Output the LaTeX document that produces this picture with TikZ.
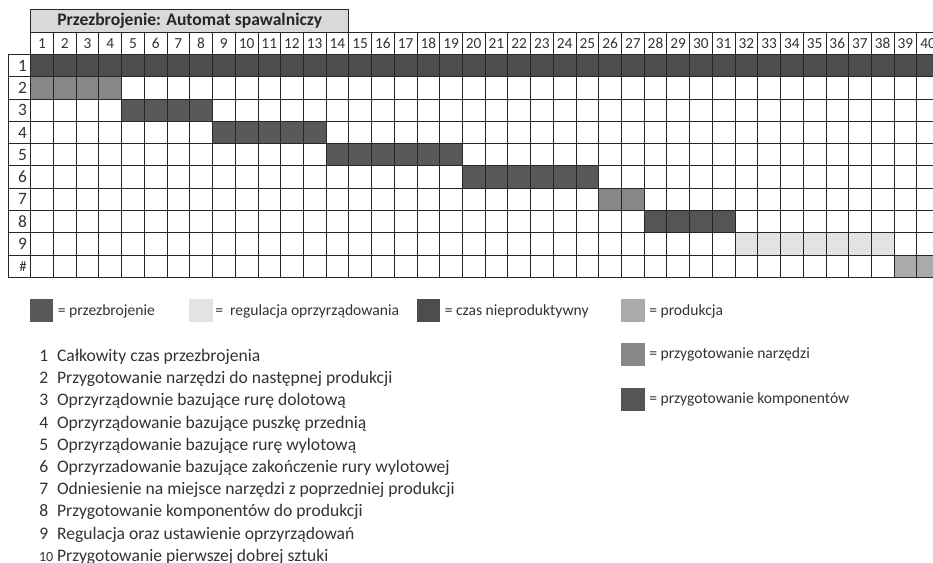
\documentclass[tikz,border=0pt]{standalone}
\usepackage{fontspec}
\setmainfont{Carlito}
\definecolor{cDark}{HTML}{4D4D4D}
\definecolor{cStep}{HTML}{595959}
\definecolor{cTool}{HTML}{888888}
\definecolor{cComp}{HTML}{555555}
\definecolor{cReg}{HTML}{E3E3E3}
\definecolor{cProd}{HTML}{AAAAAA}
\definecolor{cTitle}{HTML}{D9D9D9}
\definecolor{cText}{HTML}{333333}
\begin{document}
\begin{tikzpicture}[x=0.75pt,y=-0.75pt,
  gridline/.style={draw=black!85,line width=0.6pt},
  hnum/.style={inner sep=0pt,font=\fontsize{11.5}{13}\selectfont,text=cText},
  rlab/.style={inner sep=0pt,anchor=east,font=\fontsize{13}{15}\selectfont,text=cText},
  legtext/.style={anchor=west,inner sep=0pt,font=\fontsize{11.7}{13}\selectfont,text=cText},
  listnum/.style={anchor=base east,inner sep=0pt,font=\fontsize{13.2}{15}\selectfont,text=cText},
  listtext/.style={anchor=base west,inner sep=0pt,font=\fontsize{13.2}{15}\selectfont,text=cText}]
\useasboundingbox (0,0) rectangle (933,563);
\clip (0,0) rectangle (933,563);
\fill[white] (0,0) rectangle (933,563);
\begin{scope}[shift={(30.7,54.4)},x=17.04pt,y=-16.725pt]
  % title
  \draw[gridline,fill=cTitle] (0,-2) rectangle (14,-1);
  \node[inner sep=0pt,font=\bfseries\fontsize{13.2}{15}\selectfont,text=black!85] (title) at (7,-1.5) {Przezbrojenie: Automat spawalniczy};
  % fills
  \fill[cDark] (0,0) rectangle (40,1);
  \fill[cTool] (0,1) rectangle (4,2);
  \fill[cStep] (4,2) rectangle (8,3);
  \fill[cStep] (8,3) rectangle (13,4);
  \fill[cStep] (13,4) rectangle (19,5);
  \fill[cStep] (19,5) rectangle (25,6);
  \fill[cTool] (25,6) rectangle (27,7);
  \fill[cComp] (27,7) rectangle (31,8);
  \fill[cReg] (31,8) rectangle (38,9);
  \fill[cProd] (38,9) rectangle (40,10);
  % grid
  \foreach \c in {0,...,40} \draw[gridline] (\c,-1) -- (\c,10);
  \foreach \r in {-1,...,10} \draw[gridline] (0,\r) -- (40,\r);
  \foreach \r in {0,...,10} \draw[gridline] (-1,\r) -- (0,\r);
  \draw[gridline] (-1,0) -- (-1,10);
  % header numbers
  \foreach \c in {1,...,40} \node[hnum] (h\c) at (\c-0.5,-0.5) {\c};
  % row labels
  \foreach \r in {1,...,9} \node[rlab] (r\r) at (-0.15,\r-0.5) {\r};
  \node[rlab,font=\fontsize{11}{13}\selectfont] (r10) at (-0.17,9.5) {\#};
\end{scope}
% legend
\fill[cStep] (30,299.3) rectangle (53.3,322.3);
\node[legtext] (l1) at (57.5,311) {= przezbrojenie};
\fill[cReg] (189.3,299.3) rectangle (213.3,322.3);
\node[legtext] (l2) at (215,311) {=\ \ regulacja oprzyrządowania};
\fill[cDark] (416.7,299.3) rectangle (440,322.3);
\node[legtext] (l3) at (444.5,311) {= czas nieproduktywny};
\fill[cProd] (621,299.3) rectangle (645,322.3);
\node[legtext] (l4) at (649,311) {= produkcja};
\fill[cTool] (621,343.3) rectangle (645,366);
\node[legtext] (l5) at (649,354.7) {= przygotowanie narzędzi};
\fill[cComp] (621,388.3) rectangle (645,410.7);
\node[legtext] (l6) at (649,399.5) {= przygotowanie komponentów};
% list
\foreach \i/\t in {1/Całkowity czas przezbrojenia,
  2/Przygotowanie narzędzi do następnej produkcji,
  3/Oprzyrządownie bazujące rurę dolotową,
  4/Oprzyrządowanie bazujące puszkę przednią,
  5/Oprzyrządowanie bazujące rurę wylotową,
  6/Oprzyrzadowanie bazujące zakończenie rury wylotowej,
  7/Odniesienie na miejsce narzędzi z poprzedniej produkcji,
  8/Przygotowanie komponentów do produkcji,
  9/Regulacja oraz ustawienie oprzyrządowań}{
  \node[listnum] (n\i) at (48.5,{361.5+22.2*(\i-1)}) {\i};
  \node[listtext] (t\i) at (56.8,{361.5+22.2*(\i-1)}) {\t};
}
\node[listnum,font=\fontsize{10.5}{12}\selectfont] (n10) at (53.5,561.3) {10};
\node[listtext] (t10) at (56.8,561.3) {Przygotowanie pierwszej dobrej sztuki};
\end{tikzpicture}
\end{document}
